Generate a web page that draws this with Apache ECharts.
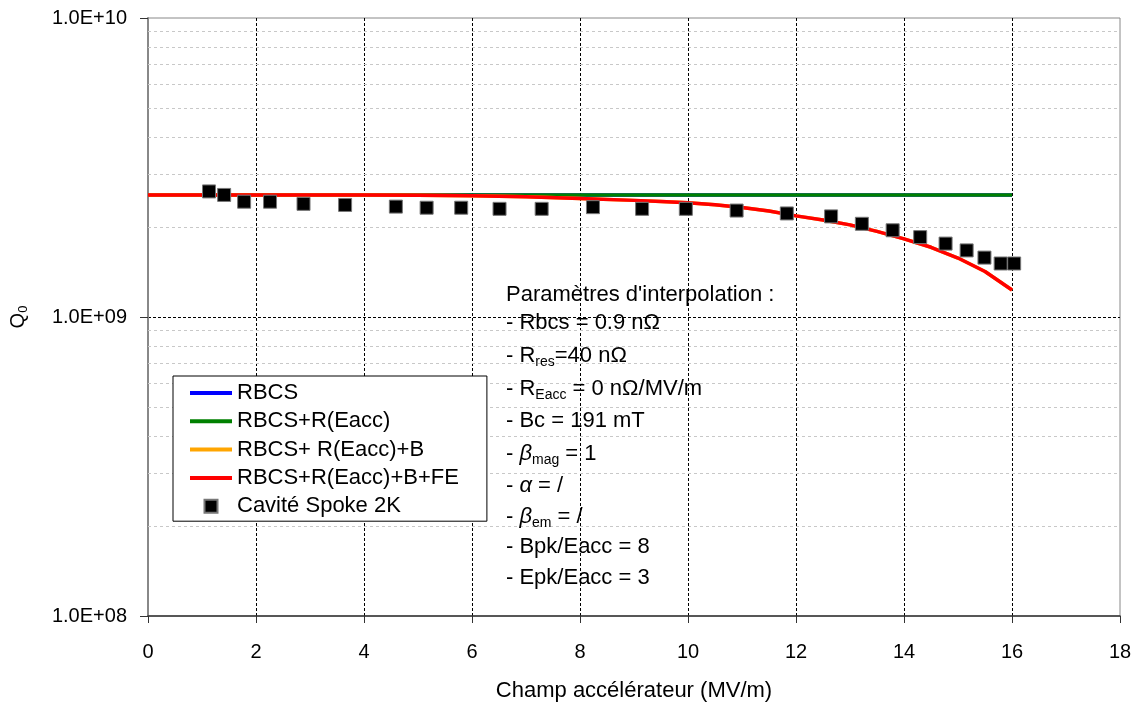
<!DOCTYPE html>
<html>
<head>
<meta charset="utf-8">
<script src="https://cdn.jsdelivr.net/npm/echarts@6/dist/echarts.min.js"></script>
<style>
html,body{margin:0;padding:0;background:#fff;}
#chart{width:1140px;height:709px;}
</style>
</head>
<body>
<div id="chart"></div>
<script>
// ---- data ----
const seriesNames = ['RBCS', 'RBCS+R(Eacc)', 'RBCS+ R(Eacc)+B', 'RBCS+R(Eacc)+B+FE', 'Cavité Spoke 2K'];
const flatE = [0, 16];
const flatQ = [2.56e9, 2.56e9];
const fitE = [0, 1, 2, 3, 4, 5, 6, 7, 8, 9, 9.5, 10, 10.5, 11, 11.5, 12, 12.5, 13, 13.5, 14, 14.5, 15, 15.5, 16];
const fitQ = [2.56e9, 2.56e9, 2.56e9, 2.56e9, 2.558e9, 2.555e9, 2.545e9, 2.525e9, 2.49e9, 2.455e9, 2.433e9, 2.411e9, 2.373e9, 2.324e9, 2.261e9, 2.179e9, 2.11e9, 2.033e9, 1.933e9, 1.825e9, 1.711e9, 1.575e9, 1.42e9, 1.231e9];
const measE = [1.13, 1.41, 1.78, 2.26, 2.88, 3.65, 4.59, 5.16, 5.80, 6.51, 7.29, 8.24, 9.15, 9.96, 10.9, 11.83, 12.65, 13.22, 13.79, 14.30, 14.77, 15.16, 15.49, 15.79, 16.04];
const measQ = [2.63e9, 2.56e9, 2.43e9, 2.43e9, 2.39e9, 2.37e9, 2.34e9, 2.32e9, 2.32e9, 2.30e9, 2.30e9, 2.33e9, 2.30e9, 2.30e9, 2.27e9, 2.22e9, 2.17e9, 2.05e9, 1.95e9, 1.85e9, 1.76e9, 1.67e9, 1.58e9, 1.51e9, 1.51e9];
const minorGridQ = [2e8, 3e8, 4e8, 5e8, 6e8, 7e8, 8e8, 9e8, 2e9, 3e9, 4e9, 5e9, 6e9, 7e9, 8e9, 9e9];
const xAxisTitle = 'Champ accélérateur (MV/m)';
// annotation lines: arrays of [style, text]
const annotLines = [
  [['n', "Paramètres d'interpolation :"]],
  [['n', '- Rbcs = 0.9 nΩ']],
  [['n', '- R'], ['s', 'res'], ['n', '=40 nΩ']],
  [['n', '- R'], ['s', 'Eacc'], ['n', ' = 0 nΩ/MV/m']],
  [['n', '- Bc = 191 mT']],
  [['n', '- '], ['i', 'β'], ['s', 'mag'], ['n', ' = 1']],
  [['n', '- '], ['i', 'α'], ['n', ' = /']],
  [['n', '- '], ['i', 'β'], ['s', 'em'], ['n', ' = /']],
  [['n', '- Bpk/Eacc = 8']],
  [['n', '- Epk/Eacc = 3']]
];
const annotY = [297, 325, 358, 391, 423, 456, 488, 519, 549, 580];

const zip = (a, b) => a.map((v, i) => [v, b[i]]);
const FONT = 'Liberation Sans, Arial, sans-serif';

const richAnnot = {
  n: { fontSize: 22, fontFamily: FONT, color: '#000', lineHeight: 26, verticalAlign: 'middle' },
  i: { fontSize: 22, fontFamily: FONT, fontStyle: 'italic', color: '#000', lineHeight: 26, verticalAlign: 'middle' },
  s: { fontSize: 14, fontFamily: FONT, color: '#000', lineHeight: 14, verticalAlign: 'bottom' }
};

const graphics = annotLines.map((line, k) => ({
  type: 'text',
  left: 506,
  top: annotY[k] - 13,
  z: 50,
  silent: true,
  style: {
    text: line.map(([s, t]) => '{' + s + '|' + t + '}').join(''),
    rich: richAnnot,
    fill: '#000'
  }
}));

const chart = echarts.init(document.getElementById('chart'), null, { renderer: 'canvas' });

const lineIcon = 'path://M0,0h42v4h-42z';
const sqIcon = 'path://M0,0h10v10h-10z';

chart.setOption({
  animation: false,
  backgroundColor: '#fff',
  textStyle: { fontFamily: FONT },
  grid: {
    left: 148, top: 18, right: 20, bottom: 93,
    containLabel: false, outerBoundsMode: 'none',
    show: true, borderColor: '#888', borderWidth: 1, backgroundColor: 'transparent'
  },
  legend: {
    orient: 'vertical',
    left: 173, top: 376,
    backgroundColor: '#fff',
    borderColor: '#000', borderWidth: 1,
    padding: [5, 28, 3, 17],
    itemWidth: 42, itemHeight: 13, itemGap: 4.3, itemTextGap: 5,
    symbolKeepAspect: true,
    textStyle: { fontSize: 22, color: '#000', fontFamily: FONT, lineHeight: 24 },
    data: [
      { name: seriesNames[0], icon: lineIcon },
      { name: seriesNames[1], icon: lineIcon },
      { name: seriesNames[2], icon: lineIcon },
      { name: seriesNames[3], icon: lineIcon },
      { name: seriesNames[4], icon: sqIcon }
    ],
    z: 20
  },
  xAxis: {
    type: 'value', min: 0, max: 18, interval: 2,
    name: xAxisTitle, nameLocation: 'middle', nameGap: 64,
    nameTextStyle: { fontSize: 22, color: '#000', fontFamily: FONT },
    axisLine: { show: true, onZero: false, lineStyle: { color: '#333', width: 1.5 } },
    axisTick: { show: true, inside: false, length: 7, lineStyle: { color: '#333' } },
    axisLabel: { fontSize: 20, color: '#000', margin: 26, fontFamily: FONT },
    splitLine: { show: true, showMinLine: false, showMaxLine: false, lineStyle: { color: '#000', type: [3, 2], width: 1 } }
  },
  yAxis: {
    type: 'log', logBase: 10, min: 1e8, max: 1e10,
    name: '{q|Q}{s|0}', nameLocation: 'middle', nameGap: 118, nameRotate: 90,
    nameTextStyle: {
      rich: {
        q: { fontSize: 20, fontFamily: FONT, color: '#000', lineHeight: 24, verticalAlign: 'middle' },
        s: { fontSize: 13, fontFamily: FONT, color: '#000', lineHeight: 13, verticalAlign: 'bottom' }
      }
    },
    axisLine: { show: true, lineStyle: { color: '#888', width: 2 } },
    axisTick: { show: true, inside: false, length: 8, lineStyle: { color: '#333' } },
    axisLabel: {
      fontSize: 20, color: '#000', margin: 21, fontFamily: FONT,
      formatter: v => {
        const e = Math.round(Math.log10(v));
        return '1.0E+' + (e < 10 ? '0' + e : '' + e);
      }
    },
    minorTick: { show: false },
    splitLine: { show: true, showMinLine: false, showMaxLine: false, lineStyle: { color: '#000', type: [3, 2], width: 1 } }
  },
  graphic: graphics,
  series: [
    {
      name: seriesNames[0], type: 'line', data: zip(flatE, flatQ),
      showSymbol: false, symbol: 'none', z: 3,
      lineStyle: { color: '#0000ff', width: 3.5 }, itemStyle: { color: '#0000ff' },
      markLine: {
        silent: true, symbol: 'none', z: 1, animation: false,
        label: { show: false },
        lineStyle: { color: '#c8c8c8', type: [3, 3], width: 1 },
        data: minorGridQ.map(q => ({ yAxis: q }))
      }
    },
    {
      name: seriesNames[1], type: 'line', data: zip(flatE, flatQ),
      showSymbol: false, symbol: 'none', z: 4,
      lineStyle: { color: '#008000', width: 3.5 }, itemStyle: { color: '#008000' }
    },
    {
      name: seriesNames[2], type: 'line', data: zip(fitE, fitQ),
      showSymbol: false, symbol: 'none', smooth: false, z: 5,
      lineStyle: { color: '#ffa500', width: 3.5, join: 'round' }, itemStyle: { color: '#ffa500' }
    },
    {
      name: seriesNames[3], type: 'line', data: zip(fitE, fitQ),
      showSymbol: false, symbol: 'none', smooth: false, z: 6,
      lineStyle: { color: '#ff0000', width: 3.5, join: 'round' }, itemStyle: { color: '#ff0000' }
    },
    {
      name: seriesNames[4], type: 'scatter', data: zip(measE, measQ),
      symbol: 'rect', symbolSize: 13, z: 7,
      itemStyle: { color: '#000', borderColor: '#777', borderWidth: 1, opacity: 1 }
    }
  ]
});
</script>
</body>
</html>
